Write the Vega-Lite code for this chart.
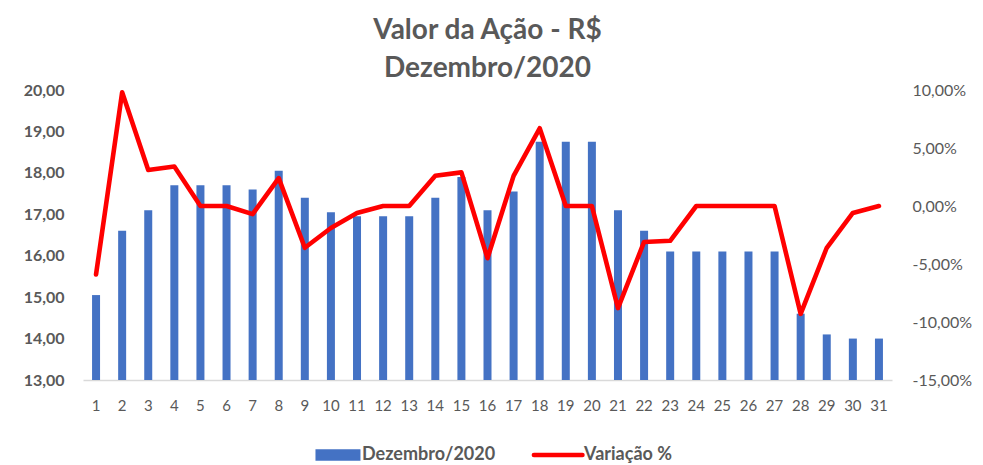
{
  "$schema": "https://vega.github.io/schema/vega-lite/v6.json",
  "width": 809,
  "height": 290,
  "autosize": {"type": "none"},
  "padding": {"left": 83, "top": 90, "right": 91, "bottom": 85},
  "background": "white",
  "config": {"view": {"stroke": null}, "font": "Lato"},
  "title": {
    "text": ["Valor da Ação - R$", "Dezembro/2020"],
    "fontSize": 28,
    "font": "Lato",
    "fontWeight": "bold",
    "color": "#595959",
    "lineHeight": 38,
    "anchor": "middle",
    "offset": -1
  },
  "data": {
    "values": [
      {"dia": 1, "valor": 15.05, "var": -0.059},
      {"dia": 2, "valor": 16.6, "var": 0.098},
      {"dia": 3, "valor": 17.1, "var": 0.031},
      {"dia": 4, "valor": 17.7, "var": 0.034},
      {"dia": 5, "valor": 17.7, "var": 0},
      {"dia": 6, "valor": 17.7, "var": 0},
      {"dia": 7, "valor": 17.6, "var": -0.007},
      {"dia": 8, "valor": 18.05, "var": 0.024},
      {"dia": 9, "valor": 17.4, "var": -0.036},
      {"dia": 10, "valor": 17.05, "var": -0.019},
      {"dia": 11, "valor": 16.95, "var": -0.006},
      {"dia": 12, "valor": 16.95, "var": 0},
      {"dia": 13, "valor": 16.95, "var": 0},
      {"dia": 14, "valor": 17.4, "var": 0.026},
      {"dia": 15, "valor": 17.9, "var": 0.029},
      {"dia": 16, "valor": 17.1, "var": -0.045},
      {"dia": 17, "valor": 17.55, "var": 0.026},
      {"dia": 18, "valor": 18.75, "var": 0.067},
      {"dia": 19, "valor": 18.75, "var": 0},
      {"dia": 20, "valor": 18.75, "var": 0},
      {"dia": 21, "valor": 17.1, "var": -0.088},
      {"dia": 22, "valor": 16.6, "var": -0.031},
      {"dia": 23, "valor": 16.1, "var": -0.030},
      {"dia": 24, "valor": 16.1, "var": 0},
      {"dia": 25, "valor": 16.1, "var": 0},
      {"dia": 26, "valor": 16.1, "var": 0},
      {"dia": 27, "valor": 16.1, "var": 0},
      {"dia": 28, "valor": 14.6, "var": -0.093},
      {"dia": 29, "valor": 14.1, "var": -0.036},
      {"dia": 30, "valor": 14.0, "var": -0.006},
      {"dia": 31, "valor": 14.0, "var": 0}
    ]
  },
  "encoding": {
    "x": {
      "field": "dia",
      "type": "ordinal",
      "axis": {
        "title": null,
        "labelAngle": 0,
        "labelFontSize": 15,
        "labelColor": "#595959",
        "ticks": false,
        "domainColor": "#d9d9d9",
        "domainWidth": 1.5,
        "labelPadding": 18
      }
    }
  },
  "layer": [
    {
      "mark": {"type": "bar", "size": 8},
      "encoding": {
        "y": {
          "field": "valor",
          "type": "quantitative",
          "scale": {"domain": [13, 20], "nice": false, "zero": false},
          "axis": {
            "title": null,
            "values": [13, 14, 15, 16, 17, 18, 19, 20],
            "labelExpr": "replace(format(datum.value, '.2f'), '.', ',')",
            "labelFontSize": 16,
            "labelFontWeight": "bold",
            "labelColor": "#595959",
            "grid": false,
            "ticks": false,
            "domain": false,
            "labelPadding": 19
          }
        },
        "y2": {"datum": 13},
        "color": {
          "datum": "Dezembro/2020",
          "scale": {"domain": ["Dezembro/2020", "Variação %"], "range": ["#4472C4", "#FF0000"]},
          "legend": {
            "orient": "none",
            "legendX": 230,
            "legendY": 356,
            "direction": "horizontal",
            "title": null,
            "labelFontSize": 18,
            "labelFontWeight": "bold",
            "labelColor": "#595959",
            "symbolSize": 2025,
            "columnPadding": 28,
            "labelOffset": 31,
            "encode": {
              "symbols": {
                "update": {
                  "shape": {"signal": "datum.value == 'Variação %' ? 'M-0.45,0H1.71' : 'M-0.29,-0.26H1.71V0.26H-0.29Z'"},
                  "size": {"value": 2025},
                  "fill": {"signal": "datum.value == 'Variação %' ? 'transparent' : '#4472C4'"},
                  "stroke": {"signal": "datum.value == 'Variação %' ? '#FF0000' : '#4472C4'"},
                  "strokeWidth": {"signal": "datum.value == 'Variação %' ? 4.5 : 0"},
                  "strokeCap": {"value": "round"}
                }
              }
            }
          }
        }
      }
    },
    {
      "mark": {"type": "line", "strokeWidth": 4.6, "strokeJoin": "round", "strokeCap": "round"},
      "encoding": {
        "y": {
          "field": "var",
          "type": "quantitative",
          "scale": {"domain": [-0.15, 0.1], "nice": false, "zero": false},
          "axis": {
            "title": null,
            "orient": "right",
            "values": [-0.15, -0.1, -0.05, 0, 0.05, 0.1],
            "labelExpr": "replace(replace(format(datum.value, '.2%'), '.', ','), '−', '-')",
            "labelFontSize": 16,
            "labelColor": "#595959",
            "grid": false,
            "ticks": false,
            "domain": false,
            "labelPadding": 20
          }
        },
        "color": {"datum": "Variação %"}
      }
    }
  ],
  "resolve": {"scale": {"y": "independent"}}
}
